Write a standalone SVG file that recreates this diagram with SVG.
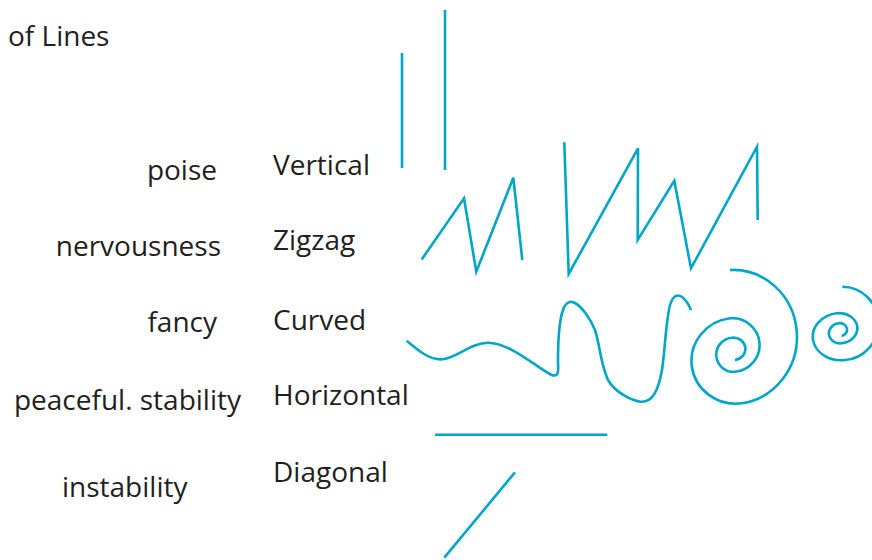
<svg xmlns="http://www.w3.org/2000/svg" width="872" height="560" viewBox="0 0 872 560">
<style>
.t{font-family:"Open Sans","Noto Sans",sans-serif;font-size:28px;fill:#231F20}
.r{text-anchor:end}
.ln{fill:none;stroke:#00A6C8;stroke-width:2.6;stroke-linejoin:miter;stroke-linecap:butt}
</style>
<rect width="872" height="560" fill="#fff"/>
<g id="title"><text class="t" x="8" y="46">of Lines</text></g>
<g id="labels">
<text class="t r" x="217" y="180">poise</text>
<text class="t r" x="221" y="256">nervousness</text>
<text class="t r" x="217" y="332">fancy</text>
<text class="t r" x="241" y="410">peaceful. stability</text>
<text class="t" x="62" y="497">instability</text>
</g>
<g id="names">
<text class="t" x="273" y="175">Vertical</text>
<text class="t" x="273" y="250">Zigzag</text>
<text class="t" x="273" y="330">Curved</text>
<text class="t" x="273" y="405">Horizontal</text>
<text class="t" x="273" y="482">Diagonal</text>
</g>
<g id="lines">
<g id="vertical">
<line class="ln" x1="402" y1="53" x2="402" y2="168"/>
<line class="ln" x1="445" y1="10" x2="445" y2="170"/>
</g>
<g id="zigzag">
<polyline class="ln" points="421.7,259.5 464,198.3 476.3,271.7 513.3,177.7 522.3,260"/>
<polyline class="ln" points="564.3,142.3 568.7,274 638,148.3 637.7,240 674.3,180.7 691,268.3 757,146.7 757.7,220"/>
</g>
<g id="curved">
<path class="ln" d="M406.7,340.7 C420,352 430,360 442,359.3 C456,358.5 470,343 488,342.7 C510,342.5 540,370 551.7,375 C560,378 558,368 558,362 C558,340 560,318 563,310 C566,301 571,301 575,303 C582,307 590,318 595,330 C600,345 600,362 608,380 C615,392 630,400 640,401.7 C652,403 658,392 662,370 C665,350 666,320 670,305 C673,295 678,294 682,297 C686,300 689,305 691,310"/>
<path class="ln" d="M730,270 A64,67 0 0 1 741.7,403.3 A44,42.5 0 0 1 730,318.3 A27,26.7 0 0 1 735,371.7 A17,17 0 0 1 731.7,337.7 A12,11.2 0 0 1 735,360"/>
<path class="ln" d="M842.3,286.7 A36,36.7 0 0 1 845,360 A28,23.5 0 0 1 836.7,313.3 A18,15 0 0 1 841.7,343.3 A11,10 0 0 1 838.3,323.3 A7,6.5 0 0 1 841.7,336"/>
</g>
<g id="horizontal"><line class="ln" x1="435" y1="434.7" x2="607.3" y2="434.7"/></g>
<g id="diagonal"><line class="ln" x1="515" y1="472.3" x2="444.3" y2="557.7"/></g>
</g>
</svg>
